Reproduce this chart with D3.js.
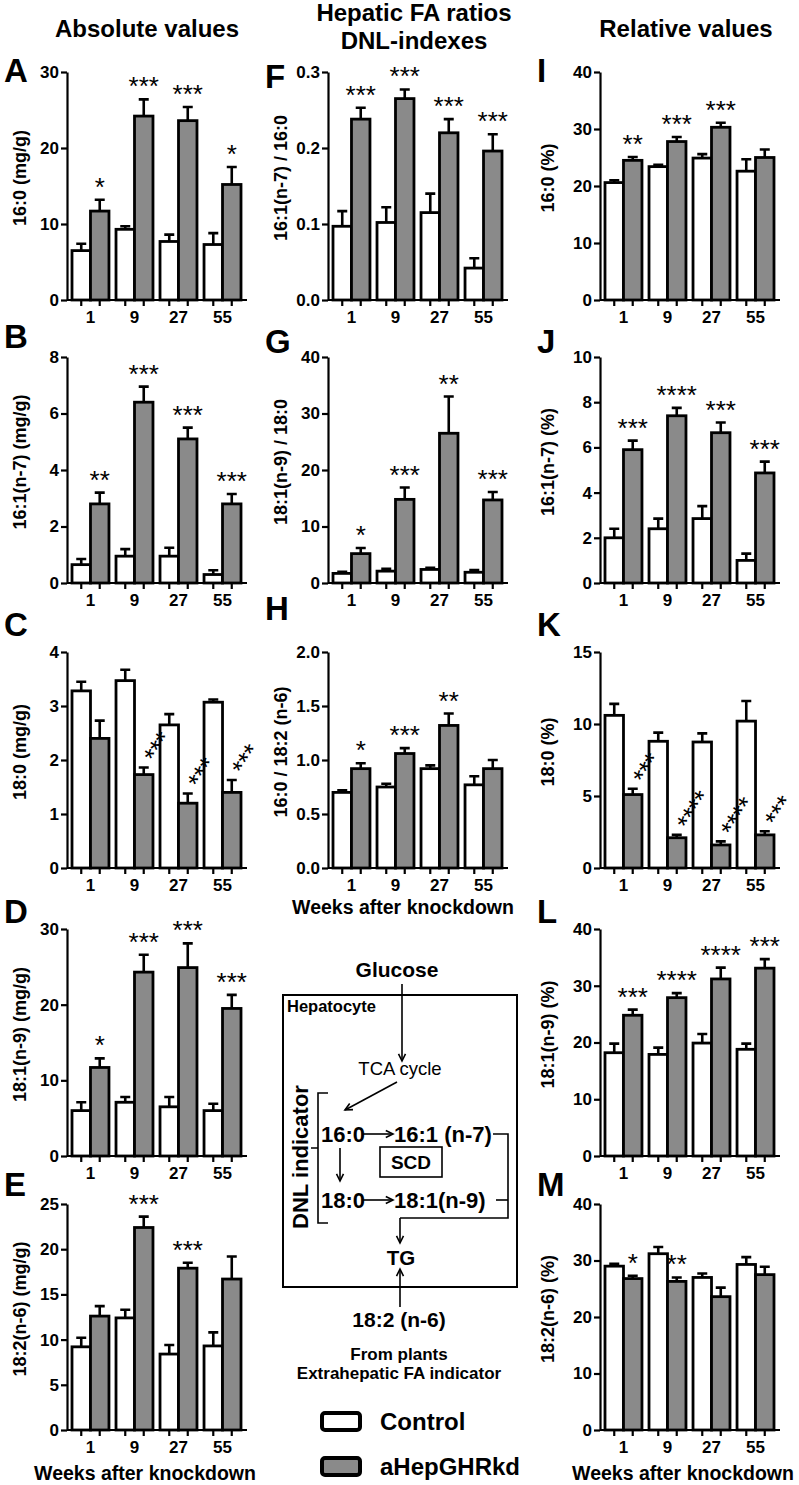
<!DOCTYPE html>
<html>
<head>
<meta charset="utf-8">
<script src="https://cdn.jsdelivr.net/npm/d3@7"></script>
<style>
  body { margin: 0; background: #fff; }
  svg { display: block; }
</style>
</head>
<body>
<div id="chart"></div>
<script>
const weeks = ["1", "9", "27", "55"];

// absolute values (mg/g)
const ctrlA = [6.5, 9.3, 7.7, 7.3],   ctrlErrA = [0.9, 0.4, 0.9, 1.5];
const kdA   = [11.7, 24.2, 23.6, 15.2], kdErrA = [1.5, 2.2, 1.8, 2.3];
const starsA = ["*", "***", "***", "*"];

const ctrlB = [0.65, 0.95, 0.95, 0.3], ctrlErrB = [0.2, 0.25, 0.3, 0.15];
const kdB   = [2.8, 6.4, 5.1, 2.8],    kdErrB = [0.4, 0.55, 0.4, 0.35];
const starsB = ["**", "***", "***", "***"];

const ctrlC = [3.28, 3.47, 2.65, 3.07], ctrlErrC = [0.17, 0.2, 0.2, 0.05];
const kdC   = [2.4, 1.73, 1.2, 1.4],    kdErrC = [0.33, 0.13, 0.18, 0.23];
const starsC = ["", "***", "***", "***"];

const ctrlD = [6.0, 7.1, 6.5, 6.0],    ctrlErrD = [1.1, 0.7, 1.3, 0.9];
const kdD   = [11.7, 24.3, 24.9, 19.5], kdErrD = [1.2, 2.3, 3.2, 1.8];
const starsD = ["*", "***", "***", "***"];

const ctrlE = [9.2, 12.4, 8.4, 9.3],   ctrlErrE = [1.0, 0.9, 1.0, 1.5];
const kdE   = [12.6, 22.4, 17.9, 16.7], kdErrE = [1.1, 1.2, 0.6, 2.5];
const starsE = ["", "***", "***", ""];

// hepatic FA ratios
const ctrlF = [0.097, 0.102, 0.115, 0.042], ctrlErrF = [0.02, 0.02, 0.025, 0.013];
const kdF   = [0.238, 0.265, 0.22, 0.196],  kdErrF = [0.015, 0.012, 0.018, 0.022];
const starsF = ["***", "***", "***", "***"];

const ctrlG = [1.7, 2.1, 2.4, 1.9],   ctrlErrG = [0.3, 0.4, 0.3, 0.4];
const kdG   = [5.2, 14.8, 26.5, 14.7], kdErrG = [1.0, 2.1, 6.5, 1.4];
const starsG = ["*", "***", "**", "***"];

const ctrlH = [0.70, 0.75, 0.92, 0.77], ctrlErrH = [0.02, 0.03, 0.03, 0.08];
const kdH   = [0.92, 1.06, 1.32, 0.92], kdErrH = [0.05, 0.05, 0.11, 0.08];
const starsH = ["*", "***", "**", ""];

// relative values (%)
const ctrlI = [20.6, 23.4, 24.9, 22.6], ctrlErrI = [0.4, 0.3, 0.7, 2.1];
const kdI   = [24.5, 27.8, 30.3, 25.0], kdErrI = [0.6, 0.8, 0.8, 1.4];
const starsI = ["**", "***", "***", ""];

const ctrlJ = [2.0, 2.4, 2.85, 1.0], ctrlErrJ = [0.4, 0.45, 0.55, 0.3];
const kdJ   = [5.9, 7.4, 6.65, 4.87], kdErrJ = [0.4, 0.35, 0.45, 0.5];
const starsJ = ["***", "****", "***", "***"];

const ctrlK = [10.6, 8.8, 8.75, 10.2], ctrlErrK = [0.8, 0.6, 0.6, 1.4];
const kdK   = [5.1, 2.1, 1.6, 2.3],     kdErrK = [0.4, 0.2, 0.25, 0.25];
const starsK = ["***", "****", "****", "***"];

const ctrlL = [18.2, 17.9, 19.9, 18.8], ctrlErrL = [1.6, 1.2, 1.6, 1.0];
const kdL   = [24.8, 27.9, 31.2, 33.1], kdErrL = [1.0, 0.8, 2.0, 1.6];
const starsL = ["***", "****", "****", "***"];

const ctrlM = [29.0, 31.2, 27.0, 29.3], ctrlErrM = [0.4, 1.2, 0.7, 1.3];
const kdM   = [26.8, 26.3, 23.6, 27.5], kdErrM = [0.5, 0.7, 1.6, 1.4];
const starsM = ["*", "**", "", ""];

const panels = [
  { id: "A", col: 0, row: 0, max: 30,  ticks: [0, 10, 20, 30], fmt: "d", label: "16:0 (mg/g)", ctrl: ctrlA, ctrlErr: ctrlErrA, kd: kdA, kdErr: kdErrA, stars: starsA },
  { id: "B", col: 0, row: 1, max: 8,   ticks: [0, 2, 4, 6, 8], fmt: "d", label: "16:1(n-7) (mg/g)", ctrl: ctrlB, ctrlErr: ctrlErrB, kd: kdB, kdErr: kdErrB, stars: starsB },
  { id: "C", col: 0, row: 2, max: 4,   ticks: [0, 1, 2, 3, 4], fmt: "d", label: "18:0 (mg/g)", ctrl: ctrlC, ctrlErr: ctrlErrC, kd: kdC, kdErr: kdErrC, stars: starsC, rot: true },
  { id: "D", col: 0, row: 3, max: 30,  ticks: [0, 10, 20, 30], fmt: "d", label: "18:1(n-9) (mg/g)", ctrl: ctrlD, ctrlErr: ctrlErrD, kd: kdD, kdErr: kdErrD, stars: starsD },
  { id: "E", col: 0, row: 4, max: 25,  ticks: [0, 5, 10, 15, 20, 25], fmt: "d", label: "18:2(n-6) (mg/g)", ctrl: ctrlE, ctrlErr: ctrlErrE, kd: kdE, kdErr: kdErrE, stars: starsE },
  { id: "F", col: 1, row: 0, max: 0.3, ticks: [0, 0.1, 0.2, 0.3], fmt: ".1f", label: "16:1(n-7) / 16:0", ctrl: ctrlF, ctrlErr: ctrlErrF, kd: kdF, kdErr: kdErrF, stars: starsF },
  { id: "G", col: 1, row: 1, max: 40,  ticks: [0, 10, 20, 30, 40], fmt: "d", label: "18:1(n-9) / 18:0", ctrl: ctrlG, ctrlErr: ctrlErrG, kd: kdG, kdErr: kdErrG, stars: starsG },
  { id: "H", col: 1, row: 2, max: 2,   ticks: [0, 0.5, 1, 1.5, 2], fmt: ".1f", label: "16:0 / 18:2 (n-6)", ctrl: ctrlH, ctrlErr: ctrlErrH, kd: kdH, kdErr: kdErrH, stars: starsH },
  { id: "I", col: 2, row: 0, max: 40,  ticks: [0, 10, 20, 30, 40], fmt: "d", label: "16:0 (%)", ctrl: ctrlI, ctrlErr: ctrlErrI, kd: kdI, kdErr: kdErrI, stars: starsI },
  { id: "J", col: 2, row: 1, max: 10,  ticks: [0, 2, 4, 6, 8, 10], fmt: "d", label: "16:1(n-7) (%)", ctrl: ctrlJ, ctrlErr: ctrlErrJ, kd: kdJ, kdErr: kdErrJ, stars: starsJ },
  { id: "K", col: 2, row: 2, max: 15,  ticks: [0, 5, 10, 15], fmt: "d", label: "18:0 (%)", ctrl: ctrlK, ctrlErr: ctrlErrK, kd: kdK, kdErr: kdErrK, stars: starsK, rot: true },
  { id: "L", col: 2, row: 3, max: 40,  ticks: [0, 10, 20, 30, 40], fmt: "d", label: "18:1(n-9) (%)", ctrl: ctrlL, ctrlErr: ctrlErrL, kd: kdL, kdErr: kdErrL, stars: starsL },
  { id: "M", col: 2, row: 4, max: 40,  ticks: [0, 10, 20, 30, 40], fmt: "d", label: "18:2(n-6) (%)", ctrl: ctrlM, ctrlErr: ctrlErrM, kd: kdM, kdErr: kdErrM, stars: starsM }
];

// layout
const FONT = '"Liberation Sans", Arial, Helvetica, sans-serif';
const colX = [67, 328, 600];
const rowY = [[72, 300], [357, 583], [652, 868], [929, 1156], [1204, 1430]];
const labelX = [20, 281, 548];
const letterBase = { A: 82, B: 348, C: 636, D: 923, E: 1196, F: 88, G: 353, H: 620, I: 82, J: 353, K: 636, L: 923, M: 1196 };

const svg = d3.select("#chart").append("svg")
  .attr("width", 799).attr("height", 1485)
  .attr("font-family", FONT);

function drawPanel(p) {
  const x0 = colX[p.col];
  const yTop = rowY[p.row][0], yBot = rowY[p.row][1];
  const y = d3.scaleLinear().domain([0, p.max]).range([yBot, yTop]);
  const x = d3.scaleBand().domain(weeks).range([x0 + 5, x0 + 174]).paddingInner(0.16);
  const xs = d3.scaleBand().domain(["ctrl", "kd"]).range([0, x.bandwidth()]);
  const g = svg.append("g");

  const bars = [];
  weeks.forEach((w, i) => {
    bars.push({ w: w, s: "ctrl", v: p.ctrl[i], e: p.ctrlErr[i] });
    bars.push({ w: w, s: "kd", v: p.kd[i], e: p.kdErr[i], star: p.stars[i] });
  });
  const cx = d => x(d.w) + xs(d.s) + xs.bandwidth() / 2;

  // error bars (upper only)
  g.selectAll("path.err").data(bars).join("path")
    .attr("class", "err")
    .attr("d", d => `M${cx(d)},${y(d.v)}V${y(d.v + d.e)}M${cx(d) - 5},${y(d.v + d.e)}H${cx(d) + 5}`)
    .attr("stroke", "#000").attr("stroke-width", 2.6).attr("fill", "none");

  g.selectAll("rect").data(bars).join("rect")
    .attr("x", d => x(d.w) + xs(d.s))
    .attr("width", xs.bandwidth())
    .attr("y", d => y(d.v))
    .attr("height", d => y(0) - y(d.v))
    .attr("fill", d => d.s === "ctrl" ? "#fff" : "#8a8a8a")
    .attr("stroke", "#000").attr("stroke-width", 2.8);

  // y axis
  const ya = g.append("g").attr("transform", `translate(${x0},0)`)
    .call(d3.axisLeft(y).tickValues(p.ticks).tickSize(6).tickSizeOuter(0).tickPadding(2).tickFormat(d3.format(p.fmt)));
  ya.select(".domain").attr("stroke-width", 2.2);
  ya.selectAll(".tick line").attr("stroke-width", 2.2);
  ya.selectAll(".tick text").attr("font-size", 17).attr("font-weight", "bold").attr("font-family", FONT).attr("fill", "#000");

  // x axis
  g.append("line").attr("x1", x0).attr("x2", x0 + 180).attr("y1", yBot).attr("y2", yBot)
    .attr("stroke", "#000").attr("stroke-width", 2.2);
  g.selectAll("line.xt").data(bars).join("line").attr("class", "xt")
    .attr("x1", cx).attr("x2", cx).attr("y1", yBot).attr("y2", yBot + 6)
    .attr("stroke", "#000").attr("stroke-width", 2.2);
  g.selectAll("text.xl").data(weeks).join("text").attr("class", "xl")
    .attr("x", w => x(w) + x.bandwidth() / 2).attr("y", yBot + 23)
    .attr("text-anchor", "middle").attr("font-size", 17).attr("font-weight", "bold")
    .text(w => w);

  // significance
  const sig = bars.filter(d => d.star);
  if (p.rot) {
    g.selectAll("text.sig").data(sig).join("text").attr("class", "sig")
      .attr("transform", d => `translate(${cx(d) + 4},${y(d.v + d.e) - 15}) rotate(-57)`)
      .attr("x", -5).attr("y", 15)
      .attr("font-size", 26).text(d => d.star);
  } else {
    g.selectAll("text.sig").data(sig).join("text").attr("class", "sig")
      .attr("x", cx).attr("y", d => y(d.v + d.e) - 4)
      .attr("text-anchor", "middle").attr("font-size", 26).text(d => d.star);
  }

  // axis title and panel letter
  svg.append("text")
    .attr("transform", `translate(${labelX[p.col]},${(yTop + yBot) / 2 - 8}) rotate(-90)`)
    .attr("dy", "0.35em").attr("text-anchor", "middle")
    .attr("font-size", 18).attr("font-weight", "bold").text(p.label);
  svg.append("text").attr("x", x0 - 63).attr("y", letterBase[p.id])
    .attr("font-size", 33).attr("font-weight", "bold").text(p.id);
}

panels.forEach(drawPanel);

// column titles
const titles = [
  { t: "Absolute values", x: 147, y: 37 },
  { t: "Hepatic FA ratios", x: 414, y: 21 },
  { t: "DNL-indexes", x: 414, y: 49 },
  { t: "Relative values", x: 686, y: 37 }
];
svg.selectAll("text.title").data(titles).join("text").attr("class", "title")
  .attr("x", d => d.x).attr("y", d => d.y).attr("text-anchor", "middle")
  .attr("font-size", 24).attr("font-weight", "bold").text(d => d.t);

const weekTitles = [{ x: 145, y: 1480 }, { x: 403, y: 914 }, { x: 683, y: 1480 }];
svg.selectAll("text.wk").data(weekTitles).join("text").attr("class", "wk")
  .attr("x", d => d.x).attr("y", d => d.y).attr("text-anchor", "middle")
  .attr("font-size", 19.5).attr("font-weight", "bold").text("Weeks after knockdown");

// pathway diagram
const dg = svg.append("g").attr("font-weight", "bold");
const stroke = sel => sel.attr("stroke", "#000").attr("fill", "none").attr("stroke-width", 1.6);

function arrow(pts) {
  stroke(dg.append("path").attr("d", d3.line()(pts)));
  const [a, b] = pts.slice(-2);
  const ang = Math.atan2(b[1] - a[1], b[0] - a[0]);
  const L = 8, s = 0.45;
  const p1 = [b[0] - L * Math.cos(ang - s), b[1] - L * Math.sin(ang - s)];
  const p2 = [b[0] - L * Math.cos(ang + s), b[1] - L * Math.sin(ang + s)];
  stroke(dg.append("path").attr("d", d3.line()([p1, b, p2])));
}
function label(t, x, y, size, anchor, weight) {
  return dg.append("text").attr("x", x).attr("y", y).attr("font-size", size)
    .attr("text-anchor", anchor || "middle").attr("font-weight", weight || "bold").text(t);
}

stroke(dg.append("rect").attr("x", 283).attr("y", 995).attr("width", 234).attr("height", 292)).attr("stroke-width", 2);
label("Glucose", 397, 977, 21);
arrow([[402, 984], [402, 1061]]);
label("Hepatocyte", 287, 1012, 16.5, "start");
label("TCA cycle", 400, 1075, 18.5, "middle", "normal");
arrow([[397, 1082], [345, 1110]]);

label("16:0", 321, 1142, 22, "start");
arrow([[362, 1134], [393, 1134]]);
label("16:1 (n-7)", 394, 1142, 22, "start");
stroke(dg.append("path").attr("d", "M493,1134H508V1218H400"));
arrow([[400, 1218], [400, 1243]]);

stroke(dg.append("rect").attr("x", 380).attr("y", 1147).attr("width", 62).attr("height", 30));
label("SCD", 411, 1169, 19);
arrow([[340, 1148], [340, 1181]]);

label("18:0", 321, 1208, 22, "start");
arrow([[362, 1200], [393, 1200]]);
label("18:1(n-9)", 394, 1208, 22, "start");
stroke(dg.append("path").attr("d", "M496,1200H508"));

// DNL bracket
stroke(dg.append("path").attr("d", "M328,1093H318V1223H328M318,1148H311"));
dg.append("text").attr("transform", "translate(308,1157) rotate(-90)")
  .attr("text-anchor", "middle").attr("font-size", 22).text("DNL indicator");

label("TG", 401, 1265, 20.5);
arrow([[400, 1307], [400, 1269]]);
label("18:2 (n-6)", 399, 1327, 21);
label("From plants", 399, 1360, 17);
label("Extrahepatic FA indicator", 399, 1379, 17);

// legend
const legendKeys = ["Control", "aHepGHRkd"];
const legendFill = ["#fff", "#8a8a8a"];
const lg = svg.append("g").selectAll("g").data(legendKeys).join("g")
  .attr("transform", (d, i) => `translate(322,${1413 + i * 45})`);
lg.append("rect").attr("width", 38).attr("height", 17).attr("rx", 3)
  .attr("fill", (d, i) => legendFill[i]).attr("stroke", "#000").attr("stroke-width", 4);
lg.append("text").attr("x", 58).attr("y", 17).attr("font-size", 24).attr("font-weight", "bold").text(d => d);
</script>
</body>
</html>
